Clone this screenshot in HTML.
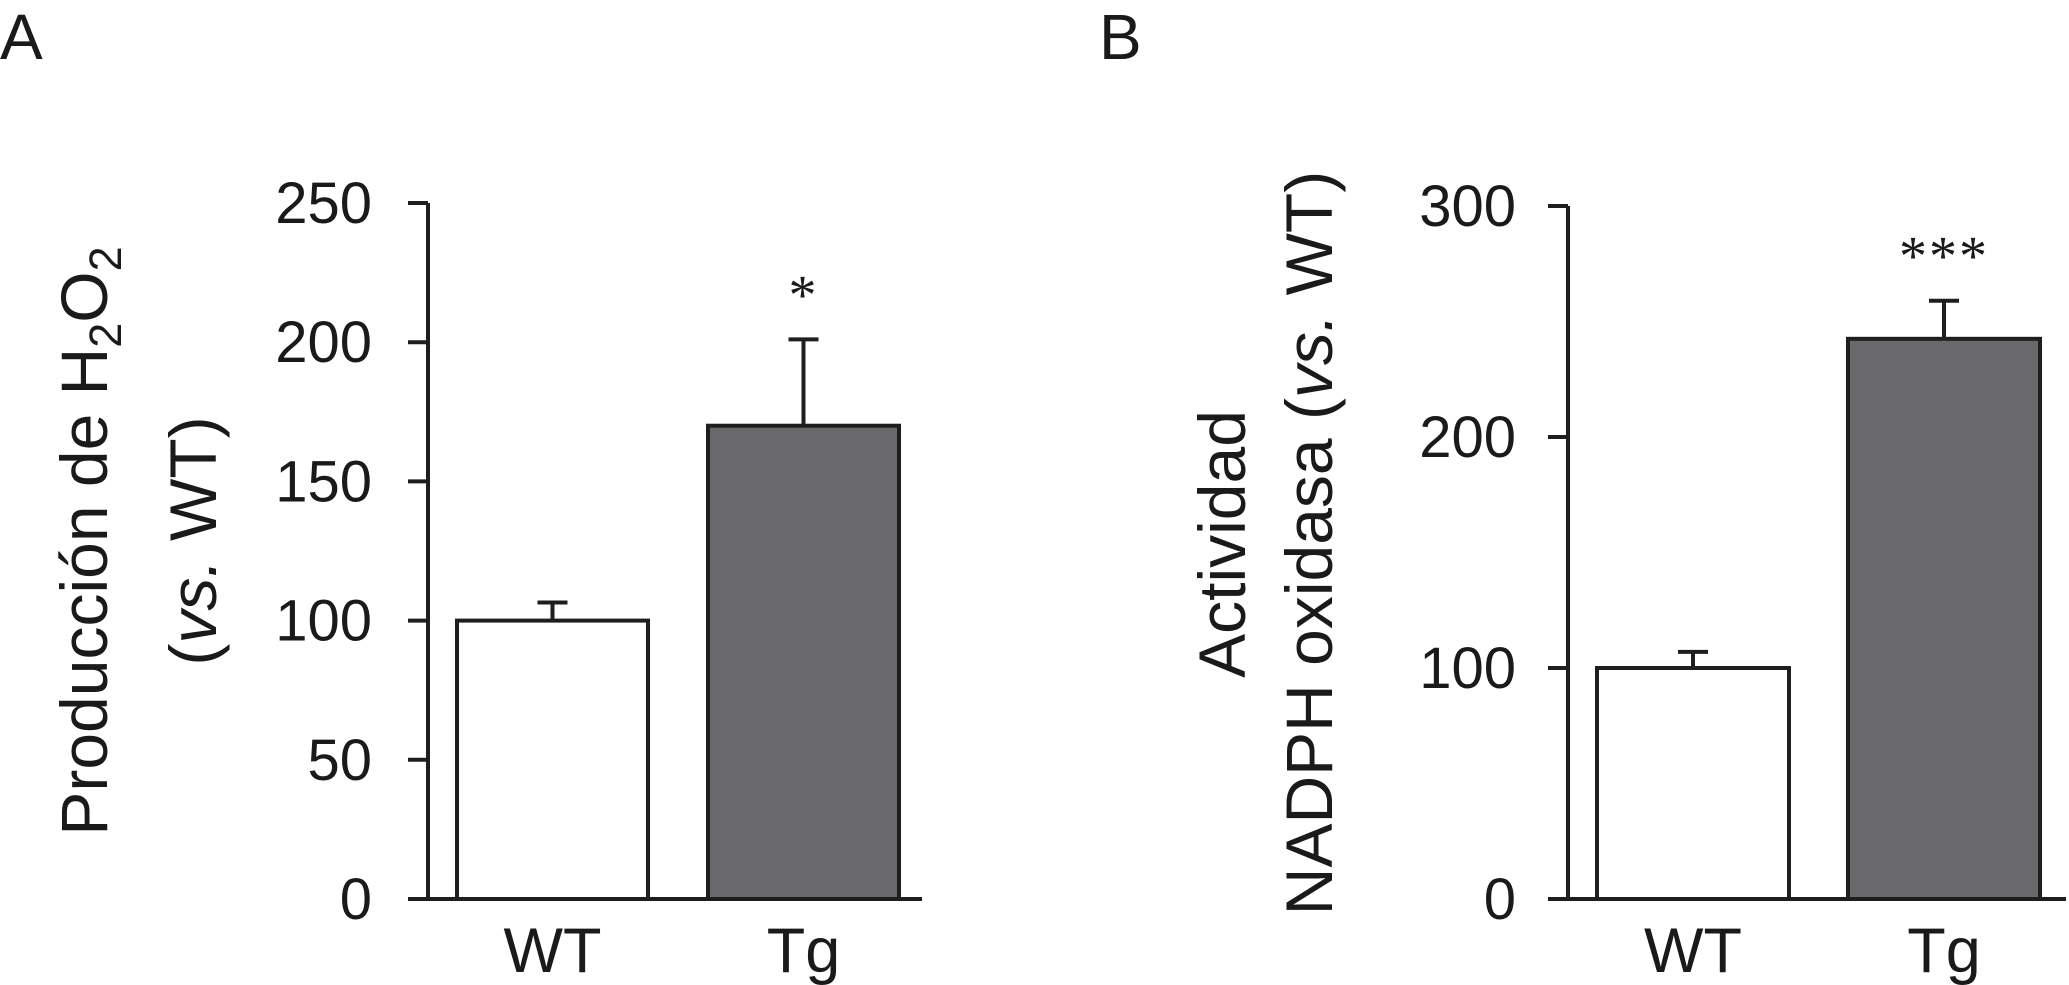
<!DOCTYPE html>
<html><head><meta charset="utf-8"><style>
html,body{margin:0;padding:0;background:#fff;}
svg{display:block;font-family:"Liberation Sans",Arial,sans-serif;}
</style></head><body>
<svg id="fig" width="2069" height="985" viewBox="0 0 2069 985" xmlns="http://www.w3.org/2000/svg">
<text x="0" y="59" font-size="64" fill="#1a1a1a">A</text>
<text x="1099" y="59" font-size="64" fill="#1a1a1a">B</text>
<g id="panelA"></g>
<g id="panelB"></g>
<text transform="translate(107,541) rotate(-90)" text-anchor="middle" font-size="66" fill="#1a1a1a">Producción de H<tspan font-size="45" dy="14">2</tspan><tspan dy="-14">O</tspan><tspan font-size="45" dy="14">2</tspan></text>
<text transform="translate(216,541) rotate(-90)" text-anchor="middle" font-size="66" fill="#1a1a1a">(<tspan font-style="italic">vs.</tspan> WT)</text>
<text transform="translate(1245,544) rotate(-90)" text-anchor="middle" font-size="66" fill="#1a1a1a">Actividad</text>
<text transform="translate(1332,543) rotate(-90)" text-anchor="middle" font-size="66" fill="#1a1a1a">NADPH oxidasa (<tspan font-style="italic">vs.</tspan> WT)</text>
</svg>
<script>
const categories = ["WT", "Tg"];
const valuesA = [100, 170];
const errorsA = [106.5, 201];
const ticksA = [0, 50, 100, 150, 200, 250];
const sigA = ["", "*"];
const valuesB = [100, 242.5];
const errorsB = [107, 259];
const ticksB = [0, 100, 200, 300];
const sigB = ["", "***"];

const NS = "http://www.w3.org/2000/svg";
function mk(parent, tag, attrs, text) {
  const e = document.createElementNS(NS, tag);
  for (const k in attrs) e.setAttribute(k, attrs[k]);
  if (text !== undefined) e.textContent = text;
  parent.appendChild(e);
  return e;
}
function drawPanel(g, cfg, values, errors, ticks, sig, prefix) {
  const y = v => cfg.y0 - (v - cfg.min) / (cfg.max - cfg.min) * (cfg.y0 - cfg.y1);
  let e = mk(g, "line", {x1: cfg.ax, y1: y(cfg.max), x2: cfg.ax, y2: cfg.y0, stroke: "#1e1e1e", "stroke-width": 4});
  
  
  e = mk(g, "line", {x1: cfg.ax - 20, y1: cfg.y0, x2: cfg.xEnd, y2: cfg.y0, stroke: "#1e1e1e", "stroke-width": 4});
  
  
  ticks.forEach(t => {
    const l = mk(g, "line", {x1: cfg.ax - 20, y1: y(t), x2: cfg.ax, y2: y(t), stroke: "#1e1e1e", "stroke-width": 4});
    
    
    const tx = mk(g, "text", {x: cfg.labelX, y: y(t) + 20, "text-anchor": "end", "font-size": 58, fill: "#1a1a1a"}, String(t));
    
    
  });
  categories.forEach((c, i) => {
    const x = cfg.barX[i], w = cfg.barW, cx = x + w / 2;
    const el = mk(g, "line", {x1: cx, y1: y(values[i]), x2: cx, y2: y(errors[i]), stroke: "#1e1e1e", "stroke-width": 4});
    
    
    const cap = mk(g, "line", {x1: cx - 15, y1: y(errors[i]), x2: cx + 15, y2: y(errors[i]), stroke: "#1e1e1e", "stroke-width": 4});
    
    
    const r = mk(g, "rect", {x: x, y: y(values[i]), width: w, height: cfg.y0 - y(values[i]), fill: i === 0 ? "#ffffff" : "#69696b", stroke: "#1e1e1e", "stroke-width": 4});
    
    
    const lab = mk(g, "text", {x: cx, y: 972, "text-anchor": "middle", "font-size": 63, fill: "#1a1a1a"}, c);
    
    
    if (sig[i]) {
      const s = mk(g, "text", {x: cx, y: y(errors[i]) - 26, "text-anchor": "middle", "font-size": 56, "letter-spacing": 2, fill: "#1a1a1a", "font-family": "Liberation Serif, serif"}, sig[i]);
      
      
    }
  });
}
drawPanel(document.getElementById("panelA"), {ax: 428, y0: 899, y1: 203, min: 0, max: 250, xEnd: 922, labelX: 372, barX: [457, 708], barW: 191}, valuesA, errorsA, ticksA, sigA, "panel-a");
drawPanel(document.getElementById("panelB"), {ax: 1568, y0: 899, y1: 206, min: 0, max: 300, xEnd: 2066, labelX: 1516, barX: [1597, 1848], barW: 192}, valuesB, errorsB, ticksB, sigB, "panel-b");
</script>
</body></html>
